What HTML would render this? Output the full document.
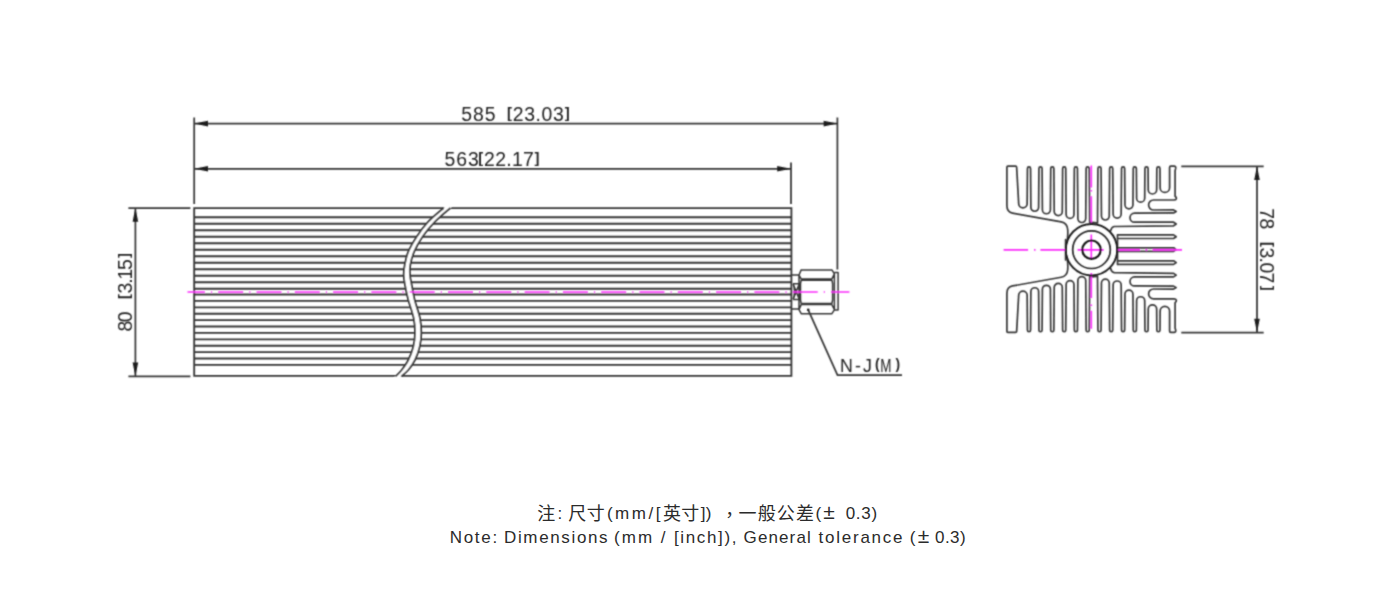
<!DOCTYPE html>
<html lang="zh">
<head>
<meta charset="utf-8">
<title>Outline drawing</title>
<style>
html,body{margin:0;padding:0;background:#fff;}
body{width:1400px;height:600px;position:relative;overflow:hidden;}
.note span{position:absolute;white-space:pre;color:#2b2b2b;font-family:"Liberation Sans","Noto Sans CJK SC",sans-serif;line-height:20px;}
</style>
</head>
<body>
<svg width="1400" height="600" viewBox="0 0 1400 600" style="position:absolute;left:0;top:0">
<defs><filter id="soft" x="0" y="0" width="1400" height="600" filterUnits="userSpaceOnUse"><feConvolveMatrix order="3" kernelMatrix="1 3 1 3 9 3 1 3 1" divisor="25" edgeMode="duplicate" preserveAlpha="false"/></filter></defs>
<g filter="url(#soft)">
<path d="M194.2 217.2H791.4M194.2 223.7H791.4M194.2 230.2H791.4M194.2 236.7H791.4M194.2 243.2H791.4M194.2 249.7H791.4M194.2 256.2H791.4M194.2 262.7H791.4M194.2 269.2H791.4M194.2 275.7H791.4M194.2 282.2H791.4M194.2 288.7H791.4M194.2 294.5H791.4M194.2 300.9H791.4M194.2 307.3H791.4M194.2 313.7H791.4M194.2 320.1H791.4M194.2 326.5H791.4M194.2 332.9H791.4M194.2 339.3H791.4M194.2 345.7H791.4M194.2 352.1H791.4M194.2 358.5H791.4M194.2 364.9H791.4" fill="none" stroke="#373737" stroke-width="1.85"/>
<path d="M194.2 208.1H791.4V375.8H194.2Z" fill="none" stroke="#373737" stroke-width="1.85"/>
<path d="M445.3 206.8L443.7 208C441.13 210.28 432.8 216.92 428.3 221.7C423.8 226.48 420.03 231.7 416.7 236.7C413.37 241.7 410.3 246.98 408.3 251.7C406.3 256.42 405.47 261.12 404.7 265C403.93 268.88 403.65 271.67 403.7 275C403.75 278.33 404.23 280.83 405 285C405.77 289.17 406.85 294.45 408.3 300C409.75 305.55 412.58 312.75 413.7 318.3C414.82 323.85 415.07 328.57 415 333.3C414.93 338.03 414.42 342.25 413.3 346.7C412.18 351.15 410.23 356.12 408.3 360C406.37 363.88 403.78 367.28 401.7 370C399.62 372.72 396.78 375.25 395.8 376.3L394.2 377.6L399.7 377.6L401.3 376.3C402.47 375.25 406.02 372.72 408.3 370C410.58 367.28 413.1 363.88 415 360C416.9 356.12 418.65 351.15 419.7 346.7C420.75 342.25 421.25 338.03 421.3 333.3C421.35 328.57 421.1 323.85 420 318.3C418.9 312.75 416.08 305.55 414.7 300C413.32 294.45 412.48 289.17 411.7 285C410.92 280.83 410.23 278.33 410 275C409.77 271.67 409.6 268.88 410.3 265C411 261.12 412.17 256.42 414.2 251.7C416.23 246.98 419.03 241.7 422.5 236.7C425.97 231.7 430.37 226.48 435 221.7C439.63 216.92 447.75 210.28 450.3 208L451.9 206.8Z" fill="#fff" stroke="none"/>
<path d="M443.7 208C441.13 210.28 432.8 216.92 428.3 221.7C423.8 226.48 420.03 231.7 416.7 236.7C413.37 241.7 410.3 246.98 408.3 251.7C406.3 256.42 405.47 261.12 404.7 265C403.93 268.88 403.65 271.67 403.7 275C403.75 278.33 404.23 280.83 405 285C405.77 289.17 406.85 294.45 408.3 300C409.75 305.55 412.58 312.75 413.7 318.3C414.82 323.85 415.07 328.57 415 333.3C414.93 338.03 414.42 342.25 413.3 346.7C412.18 351.15 410.23 356.12 408.3 360C406.37 363.88 403.78 367.28 401.7 370C399.62 372.72 396.78 375.25 395.8 376.3" fill="none" stroke="#373737" stroke-width="1.85"/>
<path d="M450.3 208C447.75 210.28 439.63 216.92 435 221.7C430.37 226.48 425.97 231.7 422.5 236.7C419.03 241.7 416.23 246.98 414.2 251.7C412.17 256.42 411 261.12 410.3 265C409.6 268.88 409.77 271.67 410 275C410.23 278.33 410.92 280.83 411.7 285C412.48 289.17 413.32 294.45 414.7 300C416.08 305.55 418.9 312.75 420 318.3C421.1 323.85 421.35 328.57 421.3 333.3C421.25 338.03 420.75 342.25 419.7 346.7C418.65 351.15 416.9 356.12 415 360C413.1 363.88 410.58 367.28 408.3 370C406.02 372.72 402.47 375.25 401.3 376.3" fill="none" stroke="#373737" stroke-width="1.85"/>
<path d="M791.4 275H799V309H791.4M801.2 269.9H831.9L834.4 273.8L831.9 278.9H801.2L799 275ZM801.2 304.6H831.9L834.4 309.8L831.9 313.7H801.2L799 309.6ZM801.2 280.2H831.9L832.6 283.5V300L831.9 303.4H801.2L800.5 300V283.5ZM834.4 272.5H838.1V310H834.4M834.4 273.8V309.8M793 283.8H799M793 299.4H799M793 283.8C795 288 795 295 793 299.4M793.4 284.5L799 298.8M799 284.5L793.4 298.8" fill="none" stroke="#373737" stroke-width="1.5" stroke-linejoin="round"/>
<path d="M194.2 117.6V204M837.4 117.6V269.4M791 162.4V204M194.2 123.6H837.4M194.2 168.8H791M128.4 208H190.4M128.4 376.3H190.4M135.4 208V376.3M808.2 309.8L837.5 375H902" fill="none" stroke="#373737" stroke-width="1.75"/>
<path d="M194.2 123.6L208 120.8L208 126.4Z" fill="#1c1c1c"/>
<path d="M837.4 123.6L823.6 126.4L823.6 120.8Z" fill="#1c1c1c"/>
<path d="M194.2 168.8L208 166L208 171.6Z" fill="#1c1c1c"/>
<path d="M791 168.8L777.2 171.6L777.2 166Z" fill="#1c1c1c"/>
<path d="M135.4 208L138.2 221.8L132.6 221.8Z" fill="#1c1c1c"/>
<path d="M135.4 376.3L132.6 362.5L138.2 362.5Z" fill="#1c1c1c"/>
<circle cx="808.2" cy="309.8" r="1.3" fill="#1c1c1c"/>
<path d="M187.5 292H849.4" fill="none" stroke="#fb2cfb" stroke-width="1.65" stroke-dasharray="25 6.05 1.2 6.05" stroke-dashoffset="7.6"/>
<g id="hsu" fill="none" stroke="#373737" stroke-width="1.7" stroke-linejoin="round" stroke-linecap="round"><path d="M1066.8 242.6Q1068.2 236 1067.7 229.5Q1067.2 223 1061.2 221.9L1012.5 213.1Q1006.9 212.1 1006.9 205.5L1006.9 167.2Q1006.9 166.2 1007.9 166.2L1015.6 166.2Q1016.6 166.2 1016.65 167.2L1018.7 203.87A4.23 4.23 0 0 0 1027.15 203.87L1027.45 168.4A1.55 1.55 0 0 1 1030.55 168.4L1030.87 207.37A3.88 3.88 0 0 0 1038.63 207.37L1038.95 168.4A1.55 1.55 0 0 1 1042.05 168.4L1042.39 209.74A4.01 4.01 0 0 0 1050.41 209.74L1050.75 168.4A1.55 1.55 0 0 1 1053.85 168.4L1054.21 211.56A4.04 4.04 0 0 0 1062.29 211.56L1062.65 168.4A1.55 1.55 0 0 1 1065.75 168.4L1066.13 214.48A3.92 3.92 0 0 0 1073.97 214.48L1074.35 168.4A1.55 1.55 0 0 1 1077.45 168.4L1077.86 218.56A3.94 3.94 0 0 0 1085.74 218.56L1086.15 168.4A1.55 1.55 0 0 1 1089.25 168.4L1089.68 222.36A27.4 27.4 0 0 1 1097.5 222.97L1097.95 168.4A1.55 1.55 0 0 1 1101.05 168.4L1101.44 216.09A3.91 3.91 0 0 0 1109.26 216.09L1109.65 168.4A1.55 1.55 0 0 1 1112.75 168.4L1113.13 214.08A4.02 4.02 0 0 0 1121.17 214.08L1121.55 168.4A1.55 1.55 0 0 1 1124.65 168.4L1124.95 204.8A4 4 0 0 0 1132.95 204.8L1133.25 168.4A1.55 1.55 0 0 1 1136.35 168.4L1136.6 198.15A4.05 4.05 0 0 0 1144.7 198.15L1144.95 168.4A1.55 1.55 0 0 1 1148.05 168.4L1148.23 189.78A4.22 4.22 0 0 0 1156.67 189.78L1156.85 168.4A1.55 1.55 0 0 1 1159.95 168.4L1160.12 187.66A4.74 4.74 0 0 0 1169.6 187.66L1169.6 167.6Q1169.6 166.2 1170.8 166.2L1174.2 166.2Q1176 166.4 1175.7 168.4L1175.1 170.6L1175.1 196.2Q1176.7 197.4 1176.3 198.9Q1175.8 200 1174 200L1153.6 200A5 5 0 0 0 1153.6 210L1173.6 209.9L1176.2 211.4L1173.6 212.9L1134.5 213.2A4.5 4.5 0 0 0 1134.5 222.2L1173.6 222.2L1176.2 224L1173.6 225.8L1114.2 226.5Q1111.6 227 1110.6 230.8"/><path d="M1117.7 234.9L1173.6 234.9L1176.2 236.7L1173.6 238.5L1117.7 238.5"/></g>
<use href="#hsu" transform="translate(0 249.7) scale(1 -0.99) translate(0 -249.7)"/>
<path d="M1117.7 247.9L1173.6 247.8L1176.2 249.6L1173.6 251.4L1117.7 251.4" fill="none" stroke="#373737" stroke-width="1.7" stroke-linejoin="round" stroke-linecap="round"/>
<path d="M1117.5 234.9V264.3M1065.6 239.5V259.9" fill="none" stroke="#373737" stroke-width="1.7" stroke-linejoin="round" stroke-linecap="round"/>
<path d="M1003.6 249.9H1028.1M1034 249.9H1035.5M1040.4 249.9H1065.3M1077.6 249.9H1103.7M1116.5 249.9H1140M1145.6 249.9H1147.2M1152.6 249.9H1182" fill="none" stroke="#fb2cfb" stroke-width="1.65"/>
<path d="M1091.3 165.6V187.5M1091.3 189.9V191.4M1091.3 196.25V222.5M1091.3 234.5V259.5M1091.3 273V298M1091.3 304.6V306.1M1091.3 310.8V328.75" fill="none" stroke="#fb2cfb" stroke-width="1.65"/>
<circle cx="1091.5" cy="249.7" r="25.7" fill="none" stroke="#1e1e1e" stroke-width="1.95"/>
<circle cx="1091.5" cy="249.7" r="18.8" fill="none" stroke="#262626" stroke-width="1.7"/>
<circle cx="1091.5" cy="249.7" r="9.2" fill="none" stroke="#0c0c0c" stroke-width="2.1"/>
<path d="M1181.3 166.3H1263.7M1181.3 332.6H1263.7M1257 166.3V332.6" fill="none" stroke="#373737" stroke-width="1.75"/>
<path d="M1257 166.3L1259.8 180.1L1254.2 180.1Z" fill="#1c1c1c"/>
<path d="M1257 332.6L1254.2 318.8L1259.8 318.8Z" fill="#1c1c1c"/>
<text x="461.2" y="120.8" font-family="'Liberation Sans', sans-serif" font-size="19.4" fill="#222" textLength="34.4" lengthAdjust="spacing">585</text>
<text x="506.9" y="117.8" font-family="'Liberation Sans', sans-serif" font-size="14.8" fill="#222" font-weight="bold">[</text>
<text x="512.7" y="120.8" font-family="'Liberation Sans', sans-serif" font-size="19.4" fill="#222" textLength="51.1" lengthAdjust="spacing">23.03</text>
<text x="564.7" y="117.8" font-family="'Liberation Sans', sans-serif" font-size="14.8" fill="#222" font-weight="bold">]</text>
<text x="444.5" y="165.8" font-family="'Liberation Sans', sans-serif" font-size="19.4" fill="#222" textLength="34.3" lengthAdjust="spacing">563</text>
<text x="478.3" y="162.8" font-family="'Liberation Sans', sans-serif" font-size="14.8" fill="#222" font-weight="bold">[</text>
<text x="484.1" y="165.8" font-family="'Liberation Sans', sans-serif" font-size="19.4" fill="#222" textLength="49.7" lengthAdjust="spacing">22.17</text>
<text x="534.4" y="162.8" font-family="'Liberation Sans', sans-serif" font-size="14.8" fill="#222" font-weight="bold">]</text>
<text transform="translate(132 331.4) rotate(-90)" font-family="'Liberation Sans', sans-serif" font-size="19.4" fill="#222" textLength="20" lengthAdjust="spacing">80</text>
<text transform="translate(129 299) rotate(-90)" font-family="'Liberation Sans', sans-serif" font-size="14.8" fill="#222" font-weight="bold">[</text>
<text transform="translate(132 293.4) rotate(-90)" font-family="'Liberation Sans', sans-serif" font-size="19.4" fill="#222" textLength="34.3" lengthAdjust="spacing">3.15</text>
<text transform="translate(129 257.9) rotate(-90)" font-family="'Liberation Sans', sans-serif" font-size="14.8" fill="#222" font-weight="bold">]</text>
<text transform="translate(1260.2 208.3) rotate(90)" font-family="'Liberation Sans', sans-serif" font-size="19.4" fill="#222" textLength="20.9" lengthAdjust="spacing">78</text>
<text transform="translate(1263.2 242) rotate(90)" font-family="'Liberation Sans', sans-serif" font-size="14.8" fill="#222" font-weight="bold">[</text>
<text transform="translate(1260.2 247.4) rotate(90)" font-family="'Liberation Sans', sans-serif" font-size="19.4" fill="#222" textLength="36" lengthAdjust="spacing">3.07</text>
<text transform="translate(1263.2 285.7) rotate(90)" font-family="'Liberation Sans', sans-serif" font-size="14.8" fill="#222" font-weight="bold">]</text>
<text x="840" y="372" font-family="'Liberation Sans', sans-serif" font-size="17.8" fill="#222" textLength="32" lengthAdjust="spacing">N-J</text>
<text x="874.9" y="369.2" font-family="'Liberation Sans', sans-serif" font-size="13.8" font-weight="bold" fill="#222">(</text>
<text x="880.3" y="372" font-family="'Liberation Sans', sans-serif" font-size="17.8" fill="#222" textLength="11.2" lengthAdjust="spacingAndGlyphs">M</text>
<text x="895.4" y="369.2" font-family="'Liberation Sans', sans-serif" font-size="13.8" font-weight="bold" fill="#222">)</text>
</g>
</svg>
<div class="note"><span style="left:537.3px;top:504px;font-size:18px;">注</span><span style="left:557.6px;top:504px;font-size:17px;">:</span> <span style="left:568.3px;top:504px;font-size:18px;letter-spacing:0.4px;">尺寸</span><span style="left:606.9px;top:504px;font-size:17px;letter-spacing:2.52px;">(mm/[</span><span style="left:662.9px;top:504px;font-size:18px;letter-spacing:0.4px;">英寸</span><span style="left:700.7px;top:504px;font-size:17px;letter-spacing:0.27px;">])</span> <span style="left:725.2px;top:500px;font-size:18px;">，</span><span style="left:738.6px;top:504px;font-size:18px;letter-spacing:1.1px;">一般公差</span><span style="left:815.4px;top:504px;font-size:17px;">(</span><span style="left:823.2px;top:501.5px;font-size:21px;">±</span> <span style="left:845.7px;top:504px;font-size:17px;letter-spacing:0.69px;">0.3)</span></div>
<div class="note"><span style="left:449.7px;top:528px;font-size:17px;letter-spacing:1.7px;">Note:</span> <span style="left:504px;top:528px;font-size:17px;letter-spacing:1.64px;">Dimensions</span> <span style="left:614px;top:528px;font-size:17px;letter-spacing:2.14px;">(mm</span> <span style="left:660.7px;top:528px;font-size:17px;">/</span> <span style="left:674px;top:528px;font-size:17px;letter-spacing:1.63px;">[inch]),</span> <span style="left:743.6px;top:528px;font-size:17px;letter-spacing:1.11px;">General</span> <span style="left:818.6px;top:528px;font-size:17px;letter-spacing:1.75px;">tolerance</span> <span style="left:909.7px;top:528px;font-size:17px;">(</span><span style="left:917.8px;top:525.5px;font-size:21px;">±</span><span style="left:935px;top:528px;font-size:17px;letter-spacing:0.46px;">0.3)</span></div>
</body>
</html>
